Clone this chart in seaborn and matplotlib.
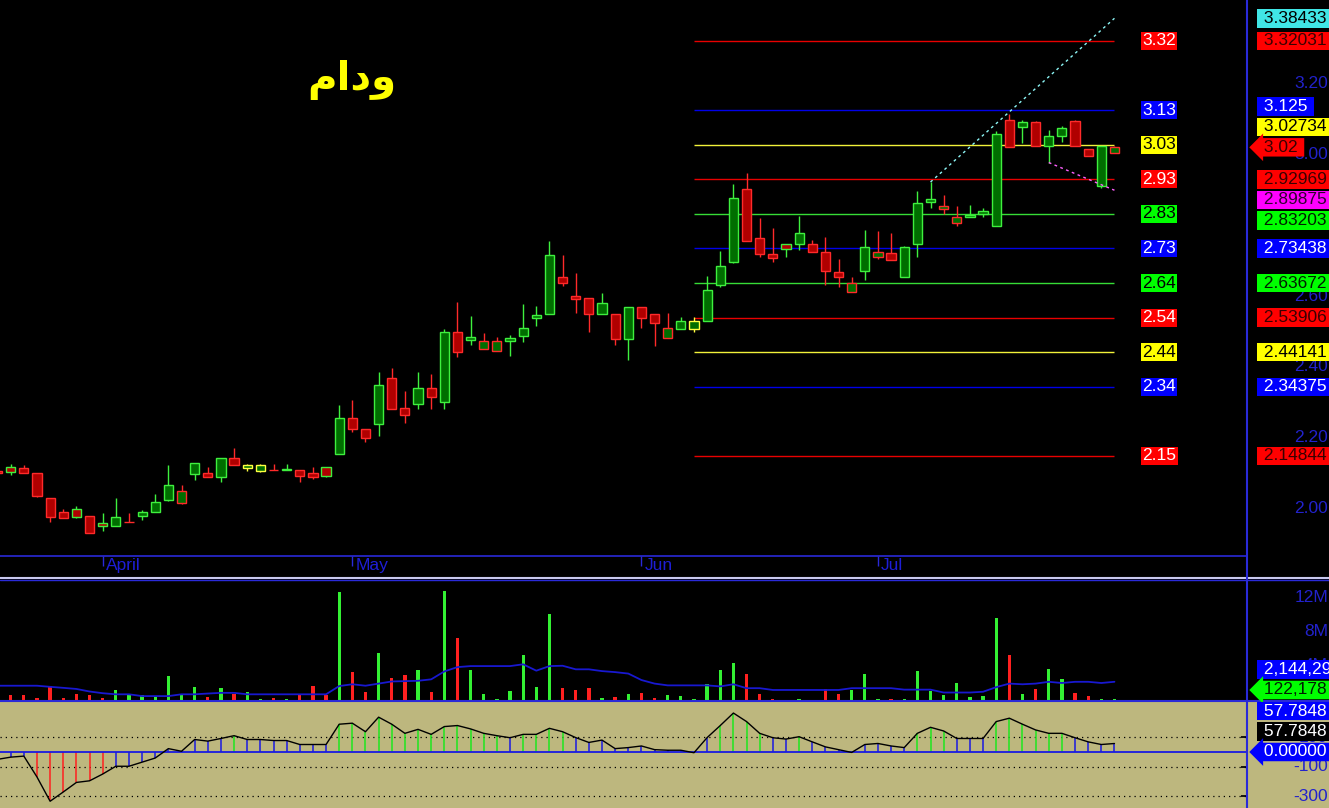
import numpy as np
import pandas as pd
import matplotlib
matplotlib.use('Agg')
import matplotlib.pyplot as plt
import matplotlib.transforms as mtrans
from matplotlib.lines import Line2D
from matplotlib.patches import Rectangle
import seaborn as sns

sns.set_theme(style='dark', rc={'axes.facecolor': 'black', 'figure.facecolor': 'black'})
plt.rcParams['font.family'] = ['Liberation Sans', 'DejaVu Sans']

# ---------------- data ----------------
symbol = 'ودام'

# daily candles, first one is only half visible at the left edge
opens = [2.107,
         2.117, 2.113, 2.100, 2.030, 1.991, 1.999, 1.980, 1.958, 1.950, 1.962,
         1.978, 1.991, 2.023, 2.016, 2.097, 2.100, 2.088, 2.142, 2.113, 2.105,
         2.110, 2.110, 2.108, 2.100, 2.117, 2.154, 2.255, 2.225, 2.239, 2.368,
         2.284, 2.295, 2.340, 2.302, 2.498, 2.477, 2.450, 2.444, 2.473, 2.488,
         2.537, 2.548, 2.654, 2.599, 2.594, 2.548, 2.549, 2.478, 2.568, 2.548,
         2.481, 2.506, 2.507, 2.530, 2.630, 2.697, 2.901, 2.763, 2.720, 2.748,
         2.748, 2.748, 2.723, 2.668, 2.610, 2.672, 2.711, 2.722, 2.654, 2.746,
         2.866, 2.846, 2.806, 2.823, 2.831, 2.798, 3.098, 3.077, 3.092, 3.025,
         3.053, 3.094, 3.016, 2.911, 3.005]
highs = [2.110,
         2.126, 2.123, 2.100, 2.030, 1.999, 2.008, 1.980, 1.986, 2.030, 1.988,
         1.997, 2.042, 2.123, 2.067, 2.129, 2.117, 2.144, 2.170, 2.125, 2.125,
         2.127, 2.127, 2.108, 2.117, 2.117, 2.293, 2.307, 2.225, 2.385, 2.397,
         2.332, 2.385, 2.380, 2.507, 2.584, 2.543, 2.495, 2.485, 2.491, 2.577,
         2.572, 2.755, 2.715, 2.666, 2.594, 2.608, 2.549, 2.568, 2.568, 2.548,
         2.551, 2.540, 2.540, 2.656, 2.727, 2.915, 2.947, 2.819, 2.791, 2.748,
         2.825, 2.758, 2.767, 2.705, 2.654, 2.786, 2.783, 2.777, 2.740, 2.897,
         2.922, 2.885, 2.854, 2.856, 2.850, 3.065, 3.115, 3.096, 3.095, 3.069,
         3.079, 3.096, 3.016, 3.024, 3.023]
lows = [2.098,
        2.096, 2.099, 2.032, 1.962, 1.973, 1.973, 1.930, 1.936, 1.950, 1.962,
        1.967, 1.991, 2.021, 2.014, 2.080, 2.088, 2.075, 2.122, 2.105, 2.104,
        2.108, 2.110, 2.075, 2.082, 2.088, 2.154, 2.215, 2.187, 2.204, 2.281,
        2.241, 2.282, 2.282, 2.282, 2.429, 2.462, 2.450, 2.444, 2.431, 2.470,
        2.514, 2.548, 2.628, 2.553, 2.498, 2.548, 2.462, 2.418, 2.511, 2.460,
        2.481, 2.506, 2.499, 2.530, 2.625, 2.692, 2.756, 2.711, 2.697, 2.711,
        2.730, 2.723, 2.630, 2.626, 2.610, 2.645, 2.705, 2.702, 2.654, 2.711,
        2.850, 2.833, 2.797, 2.822, 2.823, 2.798, 3.021, 3.032, 3.025, 2.977,
        3.035, 3.025, 2.996, 2.906, 3.005]
closes = [2.100,
          2.103, 2.099, 2.034, 1.977, 1.973, 1.977, 1.930, 1.950, 1.977, 1.962,
          1.991, 2.019, 2.067, 2.050, 2.129, 2.088, 2.142, 2.122, 2.122, 2.122,
          2.108, 2.111, 2.091, 2.088, 2.091, 2.255, 2.225, 2.198, 2.348, 2.281,
          2.263, 2.340, 2.314, 2.498, 2.443, 2.485, 2.474, 2.472, 2.481, 2.509,
          2.546, 2.715, 2.636, 2.592, 2.548, 2.579, 2.478, 2.568, 2.537, 2.525,
          2.509, 2.530, 2.530, 2.617, 2.685, 2.878, 2.756, 2.718, 2.708, 2.732,
          2.777, 2.723, 2.671, 2.654, 2.637, 2.738, 2.723, 2.702, 2.738, 2.864,
          2.875, 2.855, 2.823, 2.829, 2.841, 3.058, 3.021, 3.092, 3.025, 3.053,
          3.075, 3.025, 2.996, 3.024, 3.020]

# volume and its moving average, millions of shares
volume_m = [0.50,
            0.54, 0.62, 0.25, 1.60, 0.25, 0.66, 0.54, 0.20, 1.18, 0.66,
            0.54, 0.33, 2.77, 0.74, 1.50, 0.40, 1.37, 0.66, 1.00, 0.13,
            0.25, 0.17, 0.54, 1.60, 0.54, 12.70, 3.28, 1.00, 5.55, 2.60,
            2.90, 3.56, 1.00, 12.80, 7.30, 3.56, 0.74, 0.17, 1.10, 5.30,
            1.50, 10.10, 1.43, 1.18, 1.43, 0.25, 0.40, 0.74, 0.86, 0.25,
            0.58, 0.46, 0.13, 1.85, 3.53, 4.36, 3.10, 0.74, 0.08, 0.05,
            0.10, 0.05, 1.26, 0.74, 1.18, 3.10, 0.08, 0.08, 0.13, 3.36,
            1.10, 0.58, 1.99, 0.40, 0.46, 9.70, 5.30, 0.74, 1.26, 3.60,
            2.45, 0.86, 0.50, 0.13, 0.122178]
volume_ma_m = [1.68,
               1.68, 1.68, 1.68, 1.55, 1.43, 1.30, 1.00, 0.80, 0.67, 0.67,
               0.46, 0.46, 0.46, 0.67, 0.67, 0.76, 0.84, 0.84, 0.67, 0.67,
               0.67, 0.67, 0.67, 0.67, 0.67, 1.64, 1.85, 1.68, 1.93, 2.18,
               2.22, 2.26, 2.43, 3.36, 3.87, 3.99, 3.99, 3.99, 3.99, 4.20,
               3.45, 3.99, 4.03, 3.61, 3.61, 3.40, 3.28, 3.11, 2.35, 1.93,
               1.72, 1.72, 1.72, 1.72, 1.60, 1.85, 1.39, 1.39, 1.18, 1.18,
               1.18, 1.18, 1.18, 1.18, 1.39, 1.39, 1.39, 1.39, 1.22, 1.22,
               1.22, 0.88, 0.88, 0.88, 0.97, 1.51, 1.93, 1.85, 1.93, 2.14,
               2.00, 2.14, 2.14, 2.00, 2.14429]

# CCI oscillator
cci = [-50,
       -35, -28, -170, -335, -272, -207, -196, -150, -97, -97,
       -69, -41, 23, 5, 85, 74, 92, 111, 85, 85,
       78, 78, 51, 51, 51, 189, 196, 138, 237, 189,
       127, 154, 120, 173, 180, 157, 127, 111, 97, 120,
       120, 161, 138, 98, 65, 81, 23, 30, 41, 16,
       12, 12, -5, 98, 180, 265, 207, 127, 97, 88,
       104, 69, 35, 16, -3, 51, 58, 41, 30, 127,
       168, 143, 92, 92, 92, 207, 230, 189, 150, 127,
       127, 97, 69, 51, 57.7848]
cci_levels = [100, -100, -300]
cci_ticks = [300, 100, -100, -300]

month_names = ['April', 'May', 'Jun', 'Jul']
month_first_bar = [7, 26, 48, 66]

fib_levels = [3.32031, 3.125, 3.02734, 2.92969, 2.83203, 2.73438,
              2.63672, 2.53906, 2.44141, 2.34375, 2.14844]
fib_kind = ['red', 'blue', 'yellow', 'red', 'green', 'blue',
            'green', 'red', 'yellow', 'blue', 'red']
fib_start_bar, fib_end_bar = 52, 84

trend_up_bars, trend_up_vals = [70, 84], [2.922, 3.38433]
trend_dn_bars, trend_dn_vals = [79, 84], [2.977, 2.89875]

price_ticks = [2.0, 2.2, 2.4, 2.6, 2.8, 3.0, 3.2]
volume_ticks_m = [4, 8, 12]

# ---------------- styling ----------------
W, H = 1329, 808
BLUE_TXT = '#2222cc'
AXIS_BLUE = '#2a2ad8'
UP_FILL, DN_FILL = '#006e00', '#b00000'
UP_EDGE, DN_EDGE, FLAT_EDGE = '#3ef03e', '#ff2a2a', '#ffff40'
KHAKI = '#bdb77e'
line_col = {'red': '#e80000', 'blue': '#0000e8', 'yellow': '#f2f23a', 'green': '#36dc36'}
box_col = {'red': '#ff0000', 'blue': '#0000ff', 'yellow': '#ffff00', 'green': '#00ff00'}
inner_txt = {'red': 'white', 'blue': 'white', 'yellow': 'black', 'green': 'black'}
right_txt = {'red': '#3a0000', 'blue': 'white', 'yellow': 'black', 'green': '#002000'}
LABEL_FS = 12.5

bar_px0, bar_step = 10.7, 13.14      # pixel of bar 0 and spacing
plot_right = 1247

df = pd.DataFrame({'open': opens, 'high': highs, 'low': lows, 'close': closes,
                   'vol': volume_m, 'vol_ma': volume_ma_m, 'cci': cci})
df['bar'] = np.arange(-1, len(df) - 1)
prev_close = df['close'].shift(1).fillna(df['open'])
df['edge'] = np.where(np.isclose(df['close'], prev_close), FLAT_EDGE,
                      np.where(df['close'] > prev_close, UP_EDGE, DN_EDGE))
df['fill'] = np.where(df['close'] >= df['open'], UP_FILL, DN_FILL)
df['body_lo'] = df[['open', 'close']].min(axis=1)
df['body_h'] = (df['close'] - df['open']).abs()
df['vol_col'] = np.where(df['close'] >= df['open'], '#33f033', '#ff2020')
df['cci_col'] = np.where(df['cci'] > 100, '#1ee61e',
                         np.where(df['cci'] < -100, '#ff2020', '#1a1ae0'))

fig = plt.figure(figsize=(W / 100, H / 100), dpi=100)
fig.patch.set_facecolor('black')


def px_rect(x0, y0, x1, y1):
    return [x0 / W, 1 - y1 / H, (x1 - x0) / W, (y1 - y0) / H]


ax_p = fig.add_axes(px_rect(0, 0, plot_right, 556))
ax_v = fig.add_axes(px_rect(0, 580, plot_right, 700))
ax_c = fig.add_axes(px_rect(0, 701, plot_right, 808))
fig.patches.append(Rectangle((0, 0), 1, 107 / H, transform=fig.transFigure,
                             facecolor=KHAKI, edgecolor='none', zorder=-1))

xlim = (-bar_px0 / bar_step, (plot_right - bar_px0) / bar_step)
for ax in (ax_p, ax_v, ax_c):
    ax.set_xlim(*xlim)
    ax.grid(False)
    for s in ax.spines.values():
        s.set_visible(False)
    ax.set_yticks([])
ax_c.set_facecolor('none')

# ---- price panel ----
ax_p.set_ylim(2 - 47.5 / 354.1, 2 + 508.5 / 354.1)
ax_p.vlines(df['bar'], df['low'], df['high'], colors=df['edge'], lw=1.0, zorder=2)
ax_p.bar(df['bar'], df['body_h'], bottom=df['body_lo'], width=0.7,
         color=df['fill'], edgecolor=df['edge'], linewidth=1.0, zorder=3)
ax_p.hlines(fib_levels, fib_start_bar, fib_end_bar,
            colors=[line_col[k] for k in fib_kind], lw=1.0, zorder=1)
ax_p.plot(trend_up_bars, trend_up_vals, color='#8cf5f5', lw=1.0, ls=(0, (2, 2.5)), zorder=4)
ax_p.plot(trend_dn_bars, trend_dn_vals, color='#ff60ff', lw=1.0, ls=(0, (2, 2.5)), zorder=4)

for lv, k in zip(fib_levels, fib_kind):
    ax_p.text(fib_end_bar + 3.4, lv, f'{lv + 1e-9:.2f}', ha='center', va='center',
              fontsize=LABEL_FS, color=inner_txt[k], zorder=6,
              bbox=dict(boxstyle='square,pad=0.08', fc=box_col[k], ec='none'))

ax_p.spines['bottom'].set_visible(True)
ax_p.spines['bottom'].set_color(AXIS_BLUE)
ax_p.spines['bottom'].set_linewidth(1.2)
ax_p.set_xticks(month_first_bar)
ax_p.tick_params(axis='x', bottom=True, direction='out', length=7, width=1,
                 color=AXIS_BLUE, labelbottom=False)
month_tr = mtrans.blended_transform_factory(ax_p.transData, ax_p.transAxes)
for b, name in zip(month_first_bar, month_names):
    ax_p.text(b + 0.22, -0.004, name, transform=month_tr, ha='left', va='top',
              fontsize=LABEL_FS, color='#1e1ed6', clip_on=False)

# symbol name (its Arabic letters are all non-joining; reversed for left-to-right layout)
fig.text(352 / W, 1 - 80 / H, symbol[::-1], ha='center', va='center', color='#ffff00',
         fontsize=29, fontweight='bold', family=['DejaVu Sans'])

# ---- volume panel ----
ax_v.set_ylim(0, 120 / 8.5)
ax_v.bar(df['bar'], df['vol'], width=0.25, color=df['vol_col'],
         edgecolor='none', linewidth=0, zorder=2)
sns.lineplot(x=df['bar'].to_numpy(), y=df['vol_ma'].to_numpy(), ax=ax_v,
             color='#1818d0', lw=1.3, zorder=3)

# ---- CCI panel ----
ax_c.set_ylim(-(808 - 752) / 0.147, (752 - 701) / 0.147)
for lv in cci_levels:
    ax_c.axhline(lv, color='black', lw=0.9, ls=(0, (1, 3.2)), zorder=1)
ax_c.vlines(df['bar'], 0, df['cci'], colors=df['cci_col'], lw=1.1, zorder=2)
ax_c.axhline(0, color='#1a1ae0', lw=1.3, zorder=3)
sns.lineplot(x=df['bar'].to_numpy(), y=df['cci'].to_numpy(), ax=ax_c,
             color='black', lw=1.0, zorder=4)
ax_c.set_yticks(cci_levels)
ax_c.tick_params(axis='y', left=False, right=True, direction='in', length=4,
                 color='black', labelleft=False, labelright=False)

for ax in (ax_v, ax_c):
    ax.set_xticks([])
    ax.set_xlabel('')
    ax.set_ylabel('')

# ---- frame lines ----
for y, col, lw in [(577.5, '#c8c8ee', 1.5), (579.5, AXIS_BLUE, 1.0), (700.8, AXIS_BLUE, 1.5)]:
    fig.add_artist(Line2D([0, 1], [1 - y / H] * 2, transform=fig.transFigure,
                          color=col, lw=lw, zorder=5))
fig.add_artist(Line2D([plot_right / W] * 2, [0, 1], transform=fig.transFigure,
                      color=AXIS_BLUE, lw=1.5, zorder=5))


# ---- right-hand scale and value labels ----
def disp_y(ax, v):
    return ax.transData.transform((0, v))[1]


def tick_labels(ax, values, fmt):
    for v in values:
        fig.text(1328 / W, disp_y(ax, v) / H, fmt(v), ha='right', va='center',
                 fontsize=LABEL_FS, color=BLUE_TXT, zorder=4)


def stacked(ax, values, anchor, gap=20.5):
    ys = np.array([disp_y(ax, v) for v in values])
    bb = ax.get_window_extent()
    ys = np.clip(ys, bb.y0 + 10, bb.y1 - 10)
    up = sorted([i for i in range(len(values)) if i != anchor and values[i] >= values[anchor]],
                key=lambda i: values[i])
    dn = sorted([i for i in range(len(values)) if i != anchor and values[i] < values[anchor]],
                key=lambda i: -values[i])
    last = ys[anchor]
    for i in up:
        ys[i] = max(ys[i], last + gap)
        last = ys[i]
    last = ys[anchor]
    for i in dn:
        ys[i] = min(ys[i], last - gap)
        last = ys[i]
    return ys


def value_labels(ax, items, anchor):
    ys = stacked(ax, [it[0] for it in items], anchor)
    for (v, text, bg, fg, arrow), y in zip(items, ys):
        style = 'larrow,pad=0.1' if arrow else 'square,pad=0.1'
        fig.text(1259 / W, y / H, f' {text} ', ha='left', va='center', fontsize=LABEL_FS,
                 color=fg, zorder=6, bbox=dict(boxstyle=style, fc=bg, ec='none'))


tick_labels(ax_p, price_ticks, lambda v: f'{v:.2f}')
tick_labels(ax_v, volume_ticks_m, lambda v: f'{v}M')
tick_labels(ax_c, cci_ticks, lambda v: f'{v}')

last_close = df['close'].iloc[-1]
price_items = [(trend_up_vals[-1], f'{trend_up_vals[-1]:.6g}', '#40e6e6', 'black', False)]
price_items += [(lv, f'{lv:.6g}', box_col[k], right_txt[k], False) for lv, k in zip(fib_levels, fib_kind)]
price_items += [(trend_dn_vals[-1], f'{trend_dn_vals[-1]:.6g}', '#ff00ff', '#300030', False),
                (last_close, f'{last_close:.6g}', '#ff0000', '#3a0000', True)]
value_labels(ax_p, price_items, len(price_items) - 1)

vol_items = [(df['vol_ma'].iloc[-1], f"{df['vol_ma'].iloc[-1] * 1e6:,.0f}", '#0000ff', 'white', False),
             (df['vol'].iloc[-1], f"{df['vol'].iloc[-1] * 1e6:,.0f}", '#00ff00', '#002000', True)]
value_labels(ax_v, vol_items, 1)

c_last = df['cci'].iloc[-1]
cci_items = [(c_last, f'{c_last:.4f}', 'black', 'white', False),
             (c_last, f'{c_last:.4f}', '#0000ff', 'white', False),
             (0.0, f'{0:.5f}', '#0000ff', 'white', True)]
value_labels(ax_c, cci_items, 2)

fig.savefig('out.png', dpi=100, facecolor=fig.get_facecolor())
